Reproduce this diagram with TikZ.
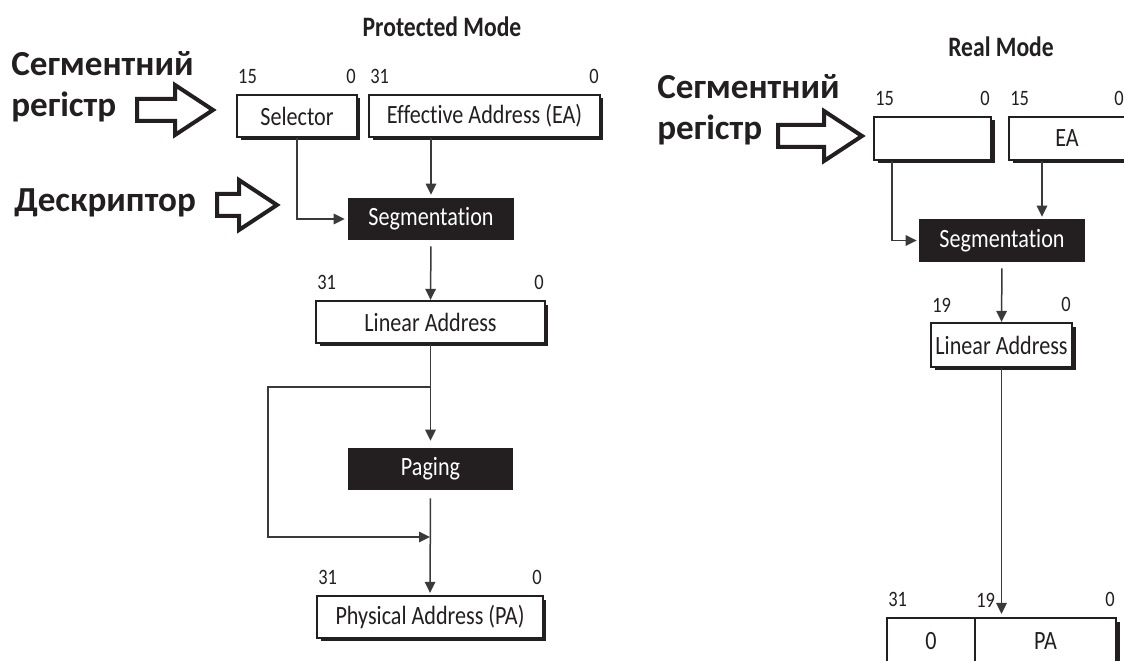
\documentclass[tikz,border=0pt]{standalone}
\usepackage{fontspec}
\usepackage{tikz}
\usetikzlibrary{calc,arrows.meta,shadows}
\setmainfont{Carlito}
\newfontfamily\boxfont[FakeStretch=0.84,Ligatures=NoCommon]{Carlito}
\newfontfamily\cyrfont{Carlito}
\definecolor{ink}{HTML}{231F20}
\definecolor{wire}{HTML}{3A3A3A}
% hollow block arrow: tail x, tip x, middle y (picture units)
\newcommand{\HollowArrow}[3]{%
  \draw[ink,line width=0.08cm,line join=miter]
    (#1,#3-11) -- (#2-38,#3-11) -- (#2-38,#3-25) -- (#2,#3)
    -- (#2-38,#3+25) -- (#2-38,#3+11) -- (#1,#3+11) -- cycle;
}
% bit numbers over the two ends of a register box
\newcommand{\Bits}[3]{%
  \node[bitno,anchor=south west] (#1-hi) at (#1.north west) {#2};
  \node[bitno,anchor=south east] (#1-lo) at (#1.north east) {#3};
}
\tikzset{
  regbox/.style={draw=ink,line width=0.045cm,fill=white,inner sep=0pt,
    minimum height=0.84cm,text=ink,font=\boxfont\fontsize{15}{17}\selectfont,
    drop shadow={shadow xshift=0.07cm,shadow yshift=-0.07cm,opacity=1,fill=ink}},
  stagebox/.style={fill=ink,text=white,inner sep=0pt,minimum height=0.84cm,
    minimum width=3.32cm,font=\boxfont\fontsize{15}{17}\selectfont},
  bitno/.style={text=ink,inner sep=0.04cm,yshift=0.15cm,
    font=\boxfont\fontsize{12.5}{14}\selectfont},
  link/.style={draw=wire,line width=0.03cm,-{Triangle[length=0.22cm,width=0.21cm]}},
  uklabel/.style={text=ink,align=left,inner sep=0pt,
    font=\cyrfont\bfseries\fontsize{20}{23.5}\selectfont},
  modetitle/.style={text=ink,font=\boxfont\bfseries\fontsize{16}{18}\selectfont}
}
\begin{document}
\begin{tikzpicture}[x=0.02cm,y=-0.02cm]
  \useasboundingbox[fill=white] (0,0) rectangle (1124,661);

  % protected mode
  \node[modetitle] (pmtitle) at (442,27) {Protected Mode};
  \node[regbox,minimum width=2.4cm] (sel) at (297,116) {Selector};
  \node[regbox,minimum width=4.62cm] (ea) at (484.5,116) {Effective Address (EA)};
  \node[stagebox] (seg) at (431,219) {Segmentation};
  \node[regbox,minimum width=4.58cm] (lin) at (430.5,322) {Linear Address};
  \node[stagebox] (pag) at (430.5,469) {Paging};
  \node[regbox,minimum width=4.52cm] (phy) at (430,617) {Physical Address (PA)};
  \Bits{sel}{15}{0}
  \Bits{ea}{31}{0}
  \Bits{lin}{31}{0}
  \Bits{phy}{31}{0}

  \draw[link,shorten >=0.06cm] (sel.south) |- (seg.west);
  \draw[link,shorten >=0.06cm] (seg.north |- ea.south) -- (seg.north);
  \draw[link,shorten <=0.12cm] (seg.south) -- (lin.north);
  \draw[link,shorten >=0.14cm] (lin.south) -- (pag.north);
  \coordinate (split) at (lin.south |- 0,387);
  \coordinate (bypass) at (268,537);
  \coordinate (merge) at (phy.north |- bypass);
  \draw[link] (split) -| (bypass) -- (merge);
  \draw[link,shorten <=0.16cm,shorten >=0.04cm] (pag.south) -- (phy.north);

  \node[uklabel,anchor=north west] (pmreg) at (11,51) {Сегментний\\регістр};
  \node[uklabel,anchor=base west] (pmdesc) at (14,212) {Дескриптор};
  \HollowArrow{137}{213}{110}
  \HollowArrow{217}{277}{205}

  % real mode
  \node[modetitle] (rmtitle) at (1001,47) {Real Mode};
  \node[regbox,minimum width=2.34cm,minimum height=0.86cm] (rsr) at (932.5,138.5) {};
  \node[regbox,minimum width=2.32cm,minimum height=0.86cm] (rea) at (1067,138.5) {EA};
  \node[stagebox,minimum height=0.86cm] (rseg) at (1002,240.5) {Segmentation};
  \node[regbox,minimum width=2.82cm,minimum height=0.88cm] (rlin) at (1001.5,345) {Linear Address};
  \node[regbox,minimum width=1.76cm,minimum height=0.92cm,drop shadow={opacity=0}] (rzero) at (931,641) {0};
  \node[regbox,minimum width=2.82cm,minimum height=0.92cm] (rpa) at (1045.5,641) {PA};
  \Bits{rsr}{15}{0}
  \Bits{rea}{15}{0}
  \Bits{rlin}{19}{0}
  \node[bitno,anchor=south west] (rzero-hi) at (rzero.north west) {31};
  \node[bitno,anchor=south west] (rpa-hi) at (rpa.north west) {19};
  \node[bitno,anchor=south east] (rpa-lo) at (rpa.north east) {0};

  \coordinate (rselout) at ($(rsr.south west)+(19,0)$);
  \coordinate (reaout) at ($(rea.south)+(-25,0)$);
  \draw[link,shorten >=0.04cm] (rselout) |- (rseg.west);
  \draw[link,shorten >=0.04cm] (reaout) -- (reaout |- rseg.north);
  \draw[link,shorten <=0.12cm] (rseg.south) -- (rlin.north);
  \draw[link,shorten >=0.06cm] (rlin.south) -- (rlin.south |- rpa.north);

  \node[uklabel,anchor=north west] (rmreg) at (657,74) {Сегментний\\регістр};
  \HollowArrow{778}{862}{136}
\end{tikzpicture}
\end{document}
